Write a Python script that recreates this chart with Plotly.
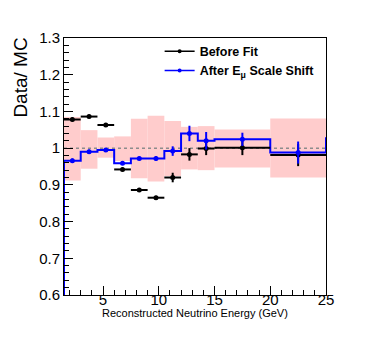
import plotly.graph_objects as go

# bin edges (GeV) and per-bin ratios
bin_edges = [1.5, 3, 4.5, 6, 7.5, 9, 10.5, 12, 13.5, 15, 20, 25]
before_fit = [1.078, 1.086, 1.063, 0.942, 0.886, 0.865, 0.920, 0.983, 0.999, 1.001, 0.981]
before_err = [0.005, 0.005, 0.005, 0.005, 0.004, 0.005, 0.013, 0.017, 0.018, 0.020, 0.030]
after_shift = [0.966, 0.990, 0.995, 0.959, 0.972, 0.972, 0.992, 1.040, 1.020, 1.024, 0.988]
after_err = [0.006, 0.006, 0.005, 0.005, 0.005, 0.006, 0.013, 0.021, 0.024, 0.018, 0.030]
after_overflow = 1.03
band_low = [0.912, 0.944, 0.974, 0.965, 0.918, 0.909, 0.924, 0.942, 0.940, 0.947, 0.920]
band_high = [1.085, 1.049, 1.029, 1.032, 1.080, 1.088, 1.074, 1.058, 1.060, 1.051, 1.081]
y_ticks = [0.6, 0.7, 0.8, 0.9, 1.0, 1.1, 1.2, 1.3]
y_tick_text = ["0.6", "0.7", "0.8", "0.9", "1", "1.1", "1.2", "1.3"]

centers = [(a + b) / 2 for a, b in zip(bin_edges[:-1], bin_edges[1:])]
widths = [b - a for a, b in zip(bin_edges[:-1], bin_edges[1:])]
half_w = [w / 2 for w in widths]

font = "Liberation Sans, Arial, sans-serif"
fig = go.Figure()

# systematic band
fig.add_trace(go.Bar(
    x=centers, y=[h - l for h, l in zip(band_high, band_low)], base=band_low,
    width=widths, marker=dict(color="#ffcccc", line=dict(width=0)),
    showlegend=False, hoverinfo="skip"))

# dotted reference line at 1
fig.add_trace(go.Scatter(
    x=[bin_edges[0], bin_edges[-1]], y=[1, 1], mode="lines",
    line=dict(color="#8c8c8c", width=1.5, dash="dot"), showlegend=False))

# after-shift histogram outline
fig.add_trace(go.Scatter(
    x=[bin_edges[0]] + bin_edges, y=[0] + after_shift + [after_overflow],
    mode="lines", line=dict(color="#0000ff", width=2, shape="hv"),
    showlegend=False, hoverinfo="skip"))

# before fit points
fig.add_trace(go.Scatter(
    x=centers, y=before_fit, mode="markers",
    marker=dict(color="black", size=5),
    error_x=dict(type="data", array=half_w, color="black", thickness=2, width=0),
    error_y=dict(type="data", array=before_err, color="black", thickness=2, width=0),
    showlegend=False))

# after shift points
fig.add_trace(go.Scatter(
    x=centers, y=after_shift, mode="markers",
    marker=dict(color="#0000ff", size=5),
    error_y=dict(type="data", array=after_err, color="#0000ff", thickness=2, width=0),
    showlegend=False))

# legend entries
fig.add_trace(go.Scatter(x=[None], y=[None], mode="lines+markers", name="Before Fit",
                         line=dict(color="black", width=1.5), marker=dict(color="black", size=4)))
fig.add_trace(go.Scatter(x=[None], y=[None], mode="lines+markers",
                         name="After E<sub>μ</sub> Scale Shift",
                         line=dict(color="#0000ff", width=1.5), marker=dict(color="#0000ff", size=4)))

fig.update_layout(
    width=374, height=339,
    margin=dict(l=56, r=56, t=30, b=52),
    paper_bgcolor="white", plot_bgcolor="white",
    font=dict(family=font, color="black"),
    barmode="overlay",
    legend=dict(x=0.365, y=1.005, xanchor="left", yanchor="top",
                bgcolor="rgba(0,0,0,0)", itemwidth=30,
                font=dict(size=12.5, weight="bold", family=font), tracegroupgap=0),
    xaxis=dict(range=[bin_edges[0], bin_edges[-1]], tickvals=[5, 10, 15, 20, 25],
               ticks="inside", ticklen=9, tickwidth=1, tickcolor="black",
               minor=dict(dtick=1, ticks="inside", ticklen=5, tickcolor="black"),
               showline=True, linecolor="black", linewidth=1, mirror=True,
               showgrid=False, zeroline=False, tickfont=dict(size=15),
               ticklabelstandoff=-9),
    yaxis=dict(range=[0.6, 1.3], tickvals=y_ticks, ticktext=y_tick_text,
               ticks="inside", ticklen=9, tickwidth=1, tickcolor="black",
               minor=dict(dtick=0.02, ticks="inside", ticklen=5, tickcolor="black"),
               showline=True, linecolor="black", linewidth=1, mirror=True,
               showgrid=False, zeroline=False, tickfont=dict(size=15)),
    annotations=[
        dict(text="Data/ MC", xref="paper", yref="paper", x=-0.165, y=0.845,
             textangle=-90, showarrow=False, font=dict(size=19), xanchor="center", yanchor="middle"),
        dict(text="Reconstructed Neutrino Energy (GeV)", xref="paper", yref="paper",
             x=0.5, y=-0.07, showarrow=False, font=dict(size=11), xanchor="center", yanchor="middle"),
    ],
)

fig.write_html("out.html")
